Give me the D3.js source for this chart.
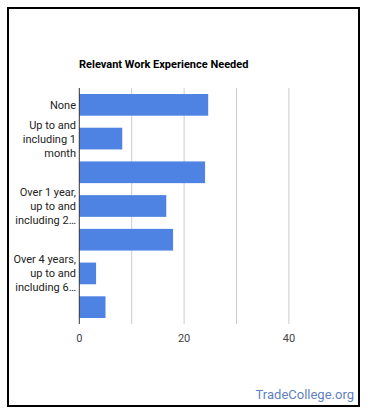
<!DOCTYPE html>
<html>
<head>
<meta charset="utf-8">
<script src="https://cdn.jsdelivr.net/npm/d3@7"></script>
<style>
  html, body { margin: 0; padding: 0; background: #fff; }
  svg { display: block; font-family: Roboto, Arial, sans-serif; }
</style>
</head>
<body>
<svg id="chart" width="370" height="417"></svg>
<script>
    const categories = [
      'None',
      'Up to and including 1 month',
      'Over 1 month, up to and including 3 months',
      'Over 1 year, up to and including 2 years',
      'Over 2 years, up to and including 4 years',
      'Over 4 years, up to and including 6 years',
      'Over 6 years, up to and including 8 years'
    ];
    const values = [24.6, 8.2, 24.0, 16.6, 17.9, 3.2, 5.0];
    const gridValues = [10, 20, 30, 40];
    const tickValues = [0, 20, 40];
    const title = 'Relevant Work Experience Needed';

    const svg = d3.select('#chart');

    // Frame
    svg.append('rect')
      .attr('x', 8).attr('y', 8).attr('width', 351).attr('height', 398)
      .attr('fill', '#fff').attr('stroke', '#000').attr('stroke-width', 2);

    const x = d3.scaleLinear().domain([0, 50]).range([79.3, 341.3]);
    const y = d3.scaleBand().domain(categories).range([88, 324])
      .paddingInner(0.356).paddingOuter(0.178);

    svg.append('text')
      .attr('x', 79).attr('y', 68)
      .attr('font-size', 11).attr('font-weight', 'bold').attr('fill', '#000')
      .text(title);

    // Gridlines
    svg.append('g')
      .selectAll('line').data(gridValues).join('line')
      .attr('x1', d => x(d)).attr('x2', d => x(d))
      .attr('y1', 88).attr('y2', 324)
      .attr('stroke', '#ccc').attr('stroke-width', 1);

    // Bars
    svg.append('g')
      .selectAll('rect').data(values).join('rect')
      .attr('x', x(0))
      .attr('y', (d, i) => y(categories[i]))
      .attr('width', d => x(d) - x(0))
      .attr('height', y.bandwidth())
      .attr('fill', '#4f83e3');

    // Baseline
    svg.append('line')
      .attr('x1', x(0)).attr('x2', x(0)).attr('y1', 88).attr('y2', 324)
      .attr('stroke', '#333').attr('stroke-width', 1);

    // X tick labels
    svg.append('g')
      .selectAll('text').data(tickValues).join('text')
      .attr('x', d => x(d)).attr('y', 342)
      .attr('text-anchor', 'middle').attr('font-size', 11).attr('fill', '#444')
      .text(d => d);

    // Category labels: wrap to 3 lines, ellipsis, skip overlapping ones
    const maxW = 70, lineH = 14, maxLines = 3;
    const meas = svg.append('text').attr('font-size', 11).attr('visibility', 'hidden');
    const textW = s => { meas.text(s); return meas.node().getComputedTextLength(); };

    function wrap(label) {
      const words = label.split(' ');
      const lines = [];
      let cur = '';
      let i = 0;
      while (i < words.length) {
        const t = cur ? cur + ' ' + words[i] : words[i];
        if (textW(t) <= maxW || !cur) { cur = t; i++; }
        else {
          lines.push(cur); cur = '';
          if (lines.length === maxLines) break;
        }
      }
      if (cur && lines.length < maxLines) lines.push(cur);
      if (i < words.length) {
        let last = lines[maxLines - 1];
        while (textW(last + '…') > maxW && last.length > 1) last = last.slice(0, -1);
        lines[maxLines - 1] = last.trimEnd() + '…';
      }
      return lines;
    }

    const labelG = svg.append('g');
    let prevBottom = -Infinity;
    categories.forEach(c => {
      const lines = wrap(c);
      const cy = y(c) + y.bandwidth() / 2;
      const top = cy - lines.length * lineH / 2;
      if (top < prevBottom) return;
      prevBottom = top + lines.length * lineH;
      const t = labelG.append('text')
        .attr('text-anchor', 'end').attr('font-size', 11).attr('fill', '#222');
      lines.forEach((l, k) => {
        t.append('tspan')
          .attr('x', 76)
          .attr('y', top + k * lineH + lineH / 2 + 4)
          .text(l);
      });
    });
    meas.remove();

    svg.append('text')
      .attr('x', 354).attr('y', 399)
      .attr('text-anchor', 'end').attr('font-size', 13).attr('fill', '#5f82c4')
      .text('TradeCollege.org');
</script>
</body>
</html>
